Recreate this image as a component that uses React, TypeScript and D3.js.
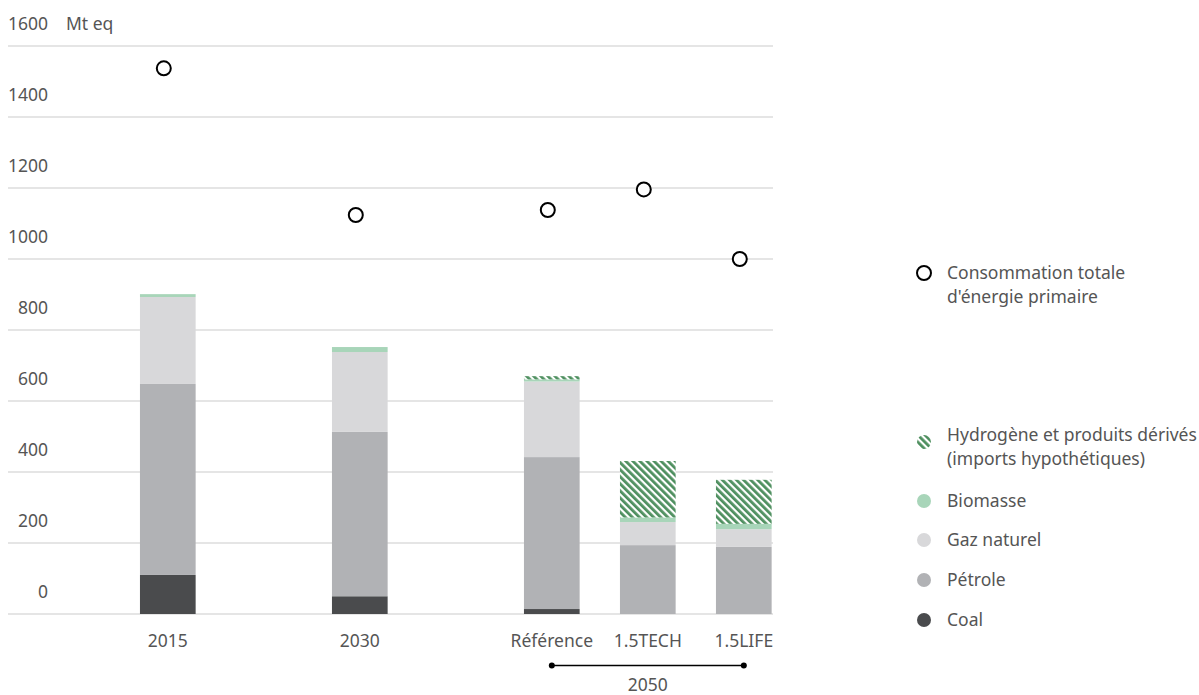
import React from "react";
import * as d3 from "d3";

const categories = ["2015", "gap1", "2030", "gap2", "Référence", "1.5TECH", "1.5LIFE"];
const barCategories = ["2015", "2030", "Référence", "1.5TECH", "1.5LIFE"];
const coal = [110, 50, 14, 0, 0];
const petrole = [538, 463, 428, 194, 189];
const gaz = [245, 225, 213, 65, 50];
const biomasse = [8, 14, 6, 13, 15];
const hydrogene = [0, 0, 9, 159, 124];
const totalPrimary = [1537, 1124, 1138, 1196, 1000];
const yTicks = [0, 200, 400, 600, 800, 1000, 1200, 1400, 1600];

const seriesKeys = ["coal", "petrole", "gaz", "biomasse", "hydrogene"];
const seriesFill: Record<string, string> = {
  coal: "#4a4b4d",
  petrole: "#b1b2b5",
  gaz: "#d8d8da",
  biomasse: "#a8d5b9",
  hydrogene: "url(#hatch)",
};

const legendItems = [
  { key: "hydrogene", lines: ["Hydrogène et produits dérivés", "(imports hypothétiques)"] },
  { key: "biomasse", lines: ["Biomasse"] },
  { key: "gaz", lines: ["Gaz naturel"] },
  { key: "petrole", lines: ["Pétrole"] },
  { key: "coal", lines: ["Coal"] },
];

const W = 1199;
const H = 695;
const FONT = "'Noto Sans', sans-serif";
const TXT = "#555";

export default function App() {
  const rows = barCategories.map((c, i) => ({
    cat: c,
    coal: coal[i],
    petrole: petrole[i],
    gaz: gaz[i],
    biomasse: biomasse[i],
    hydrogene: hydrogene[i],
  }));
  const stacked = d3.stack<any>().keys(seriesKeys)(rows);

  const x = d3
    .scaleBand<string>()
    .domain(categories)
    .range([119.8, 791.8])
    .paddingInner(0.42)
    .paddingOuter(0.21);
  const y = d3.scaleLinear().domain([0, 1600]).range([614, 46]);
  const bw = x.bandwidth();
  const cx = (c: string) => (x(c) as number) + bw / 2;

  const legendX = 924;
  const legendYs = [442, 501, 540, 580, 620];

  return (
    <div style={{ position: "absolute", left: 0, top: 0 }}>
      <svg width={W} height={H} style={{ display: "block", fontFamily: FONT }}>
        <defs>
          <pattern id="hatch" patternUnits="userSpaceOnUse" width={5} height={5} patternTransform="rotate(-45)">
            <rect x={0} y={0} width={5} height={5} fill="#ffffff" />
            <rect x={0} y={0} width={2.8} height={5} fill="#4e8f5f" />
          </pattern>
        </defs>
        <rect width={W} height={H} fill="#fff" />

        {yTicks.map((t) => (
          <g key={t}>
            <line x1={8} x2={773} y1={y(t)} y2={y(t)} stroke="#dcdcdc" strokeWidth={1.5} />
            <text x={48} y={y(t) - 16} textAnchor="end" fontSize={17.5} fill={TXT}>
              {t}
            </text>
          </g>
        ))}
        <text x={66} y={y(1600) - 16} fontSize={17.5} fill={TXT}>
          Mt eq
        </text>

        {stacked.map((s) => (
          <g key={s.key} fill={seriesFill[s.key]}>
            {s.map((d, i) =>
              d[1] - d[0] > 0 ? (
                <rect
                  key={i}
                  x={x(barCategories[i])}
                  width={bw}
                  y={y(d[1])}
                  height={y(d[0]) - y(d[1])}
                />
              ) : null
            )}
          </g>
        ))}

        {barCategories.map((c, i) => (
          <circle
            key={c}
            cx={cx(c) - 4}
            cy={y(totalPrimary[i])}
            r={7}
            fill="#fff"
            stroke="#000"
            strokeWidth={2}
          />
        ))}

        {barCategories.map((c) => (
          <text key={c} x={cx(c)} y={647} textAnchor="middle" fontSize={17.5} fill={TXT}>
            {c}
          </text>
        ))}

        <line x1={cx("Référence")} x2={cx("1.5LIFE")} y1={665.5} y2={665.5} stroke="#000" strokeWidth={1.5} />
        <circle cx={cx("Référence")} cy={665.5} r={3} fill="#000" />
        <circle cx={cx("1.5LIFE")} cy={665.5} r={3} fill="#000" />
        <text
          x={(cx("Référence") + cx("1.5LIFE")) / 2}
          y={691}
          textAnchor="middle"
          fontSize={17.5}
          fill={TXT}
        >
          2050
        </text>

        <circle cx={legendX} cy={273} r={7} fill="#fff" stroke="#000" strokeWidth={2} />
        <text x={947} y={279} fontSize={17.5} fill={TXT}>
          Consommation totale
        </text>
        <text x={947} y={303} fontSize={17.5} fill={TXT}>
          d'énergie primaire
        </text>

        {legendItems.map((it, i) => {
          const cy = legendYs[i];
          const startY = it.lines.length === 2 ? cy - 1 : cy + 6;
          return (
            <g key={it.key}>
              <circle cx={legendX} cy={cy} r={7} fill={seriesFill[it.key]} />
              {it.lines.map((l, j) => (
                <text key={j} x={947} y={startY + j * 24} fontSize={17.5} fill={TXT}>
                  {l}
                </text>
              ))}
            </g>
          );
        })}
      </svg>
    </div>
  );
}
